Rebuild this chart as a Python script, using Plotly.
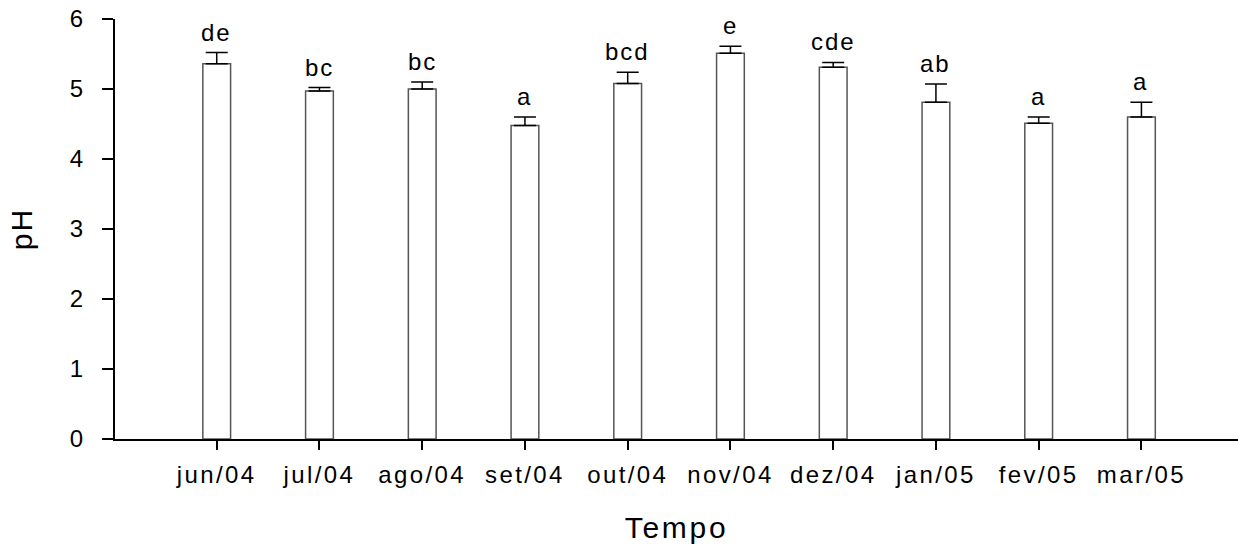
import plotly.graph_objects as go

months = ["jun/04", "jul/04", "ago/04", "set/04", "out/04",
          "nov/04", "dez/04", "jan/05", "fev/05", "mar/05"]
ph_mean = [5.36, 4.97, 5.00, 4.48, 5.08, 5.51, 5.31, 4.81, 4.51, 4.60]
ph_err = [0.16, 0.05, 0.10, 0.12, 0.16, 0.10, 0.07, 0.26, 0.09, 0.21]
letters = ["de", "bc", "bc", "a", "bcd", "e", "cde", "ab", "a", "a"]
y_ticks = [0, 1, 2, 3, 4, 5, 6]

FONT = "Liberation Sans, Arial, Helvetica, sans-serif"

fig = go.Figure()
fig.add_trace(go.Bar(
    x=months, y=ph_mean, width=0.27,
    marker=dict(color="white", line=dict(color="#555555", width=1.5)),
    error_y=dict(type="data", array=ph_err, symmetric=False,
                 arrayminus=[0] * len(ph_err),
                 color="black", thickness=1.5, width=11),
    showlegend=False, hoverinfo="skip",
))

for m, v, e, t in zip(months, ph_mean, ph_err, letters):
    fig.add_annotation(x=m, y=v + e, text=t, showarrow=False,
                       yanchor="bottom", yshift=5,
                       font=dict(family=FONT, size=24, color="black"))

fig.update_layout(
    width=1238, height=546,
    margin=dict(l=115, r=0, t=19, b=107),
    paper_bgcolor="white", plot_bgcolor="white",
    font=dict(family=FONT, color="black"),
    bargap=0,
)
fig.update_xaxes(
    type="category", range=[-0.99, 9.94], automargin=False,
    showline=True, linecolor="black", linewidth=2,
    ticks="outside", ticklen=9, tickwidth=2, tickcolor="black",
    tickfont=dict(size=24), ticklabelstandoff=4,
    showgrid=False, zeroline=False,
    title=dict(text="Tempo", font=dict(size=30), standoff=30),
)
fig.update_yaxes(
    range=[0, 6], tickvals=y_ticks, automargin=False,
    showline=True, linecolor="black", linewidth=2,
    ticks="outside", ticklen=11, tickwidth=2, tickcolor="black",
    tickfont=dict(size=24), ticklabelstandoff=14,
    showgrid=False, zeroline=False,
    title=dict(text="pH", font=dict(size=30), standoff=28),
)

post = """
document.body.style.margin = '0';
var st = document.createElement('style');
st.textContent = '.xtick text{letter-spacing:2.4px} .annotation-text{letter-spacing:2px} .g-xtitle text{letter-spacing:2.7px} .g-ytitle text{letter-spacing:2px}';
document.head.appendChild(st);
"""
fig.write_html("out.html", post_script=post,
               config={"displayModeBar": False, "staticPlot": True})
